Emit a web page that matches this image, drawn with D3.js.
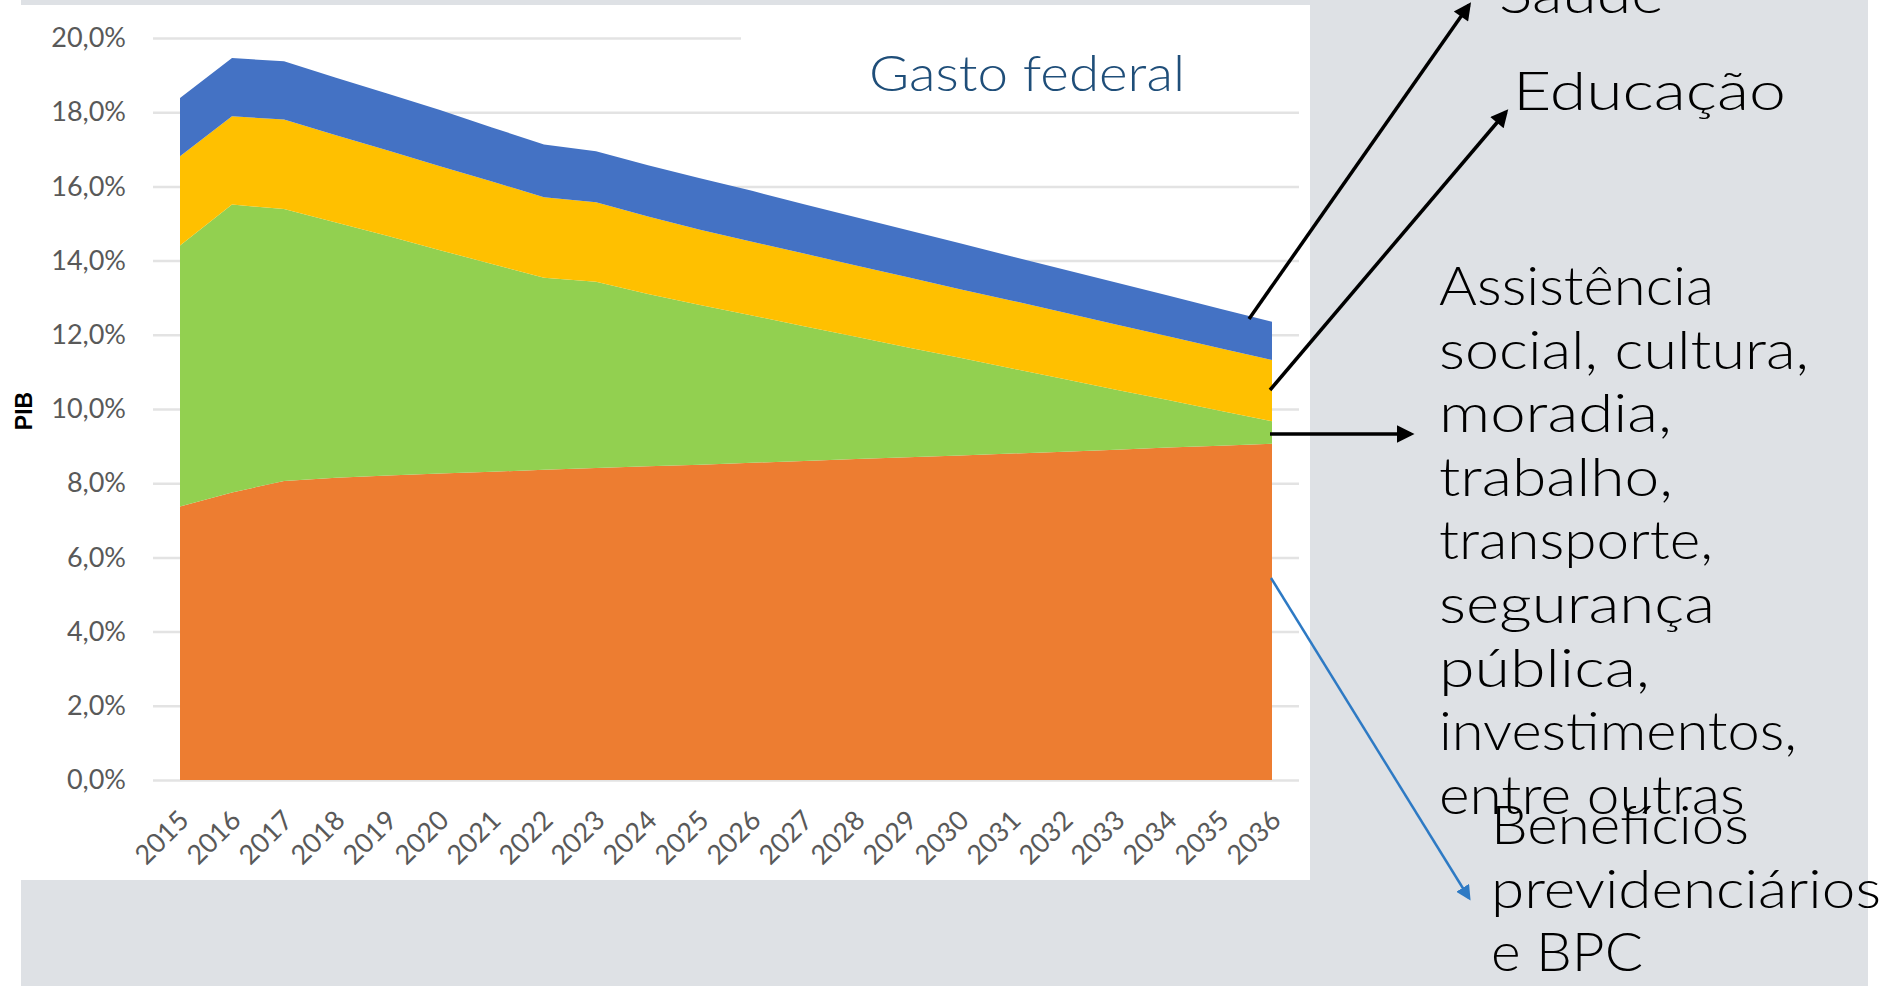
<!DOCTYPE html>
<html>
<head>
<meta charset="utf-8">
<script src="https://cdn.jsdelivr.net/npm/d3@7"></script>
<style>
  html, body { margin: 0; padding: 0; background: #ffffff; }
  svg { display: block; }
</style>
</head>
<body>
<svg id="chart" width="1891" height="986"></svg>
<script>
// ---------- DATA (percent of GDP) ----------
const years = ["2015","2016","2017","2018","2019","2020","2021","2022","2023","2024","2025",
               "2026","2027","2028","2029","2030","2031","2032","2033","2034","2035","2036"];
const seriesKeys = ["beneficios", "assistencia", "educacao", "saude"];
const beneficios  = [7.37, 7.75, 8.06, 8.15, 8.21, 8.26, 8.31, 8.36, 8.41, 8.46, 8.50, 8.55, 8.60, 8.65, 8.70, 8.75, 8.80, 8.85, 8.90, 8.96, 9.01, 9.06];
const assistencia = [7.04, 7.76, 7.33, 6.88, 6.45, 6.02, 5.60, 5.18, 5.02, 4.64, 4.30, 3.97, 3.63, 3.30, 2.96, 2.63, 2.29, 1.96, 1.62, 1.28, 0.94, 0.61];
const educacao    = [2.40, 2.38, 2.41, 2.35, 2.31, 2.26, 2.22, 2.17, 2.14, 2.09, 2.03, 1.99, 1.96, 1.92, 1.89, 1.85, 1.83, 1.79, 1.76, 1.72, 1.69, 1.65];
const saude       = [1.57, 1.57, 1.57, 1.55, 1.53, 1.52, 1.46, 1.42, 1.38, 1.38, 1.39, 1.37, 1.33, 1.30, 1.27, 1.24, 1.19, 1.16, 1.13, 1.10, 1.06, 1.03];
const seriesColors = ["#ED7D31", "#92D050", "#FFC000", "#4472C4"];
const yTicks = [0, 2, 4, 6, 8, 10, 12, 14, 16, 18, 20];
const yAxisTitle = "PIB";
const chartTitle = "Gasto federal";
const labelSaude = ["Saúde"];
const labelEducacao = ["Educação"];
const labelAssistencia = ["Assistência", "social, cultura,", "moradia,", "trabalho,", "transporte,", "segurança", "pública,", "investimentos,", "entre outras"];
const labelBeneficios = ["Benefícios", "previdenciários", "e BPC"];

// ---------- BUILD TABLE ----------
const table = years.map((yr, i) => ({
  year: yr,
  beneficios: beneficios[i],
  assistencia: assistencia[i],
  educacao: educacao[i],
  saude: saude[i]
}));

const svg = d3.select("#chart");

// backgrounds
svg.append("rect").attr("x", 21).attr("y", 0).attr("width", 1847).attr("height", 986).attr("fill", "#dee1e5");
svg.append("rect").attr("x", 0).attr("y", 5).attr("width", 1310).attr("height", 875).attr("fill", "#ffffff");

// scales
const x = d3.scalePoint().domain(years).range([180, 1272]);
const y = d3.scaleLinear().domain([0, 20]).range([780, 38]);
const gridX0 = 153, gridX1 = 1299;

// gridlines
const grid = svg.append("g").attr("transform", `translate(${gridX0},0)`)
  .call(d3.axisLeft(y).tickValues(yTicks).tickSize(-(gridX1 - gridX0)).tickFormat(""));
grid.select(".domain").remove();
grid.selectAll(".tick line").attr("stroke", "#e3e3e3").attr("stroke-width", 2.5);

// white title box covering the top gridline
svg.append("rect").attr("x", 741).attr("y", 28).attr("width", 565).attr("height", 70).attr("fill", "#ffffff");

// stacked areas
const stack = d3.stack().keys(seriesKeys);
const layers = stack(table);
const area = d3.area()
  .x(d => x(d.data.year))
  .y0(d => y(d[0]))
  .y1(d => y(d[1]));
svg.append("g").selectAll("path")
  .data(layers)
  .join("path")
  .attr("d", area)
  .attr("fill", (d, i) => seriesColors[i]);

// y axis labels
const yAxis = svg.append("g").attr("transform", `translate(${gridX0},0)`)
  .call(d3.axisLeft(y).tickValues(yTicks).tickSize(0).tickPadding(27)
        .tickFormat(d => d.toFixed(1).replace(".", ",") + "%"));
yAxis.select(".domain").remove();
yAxis.selectAll("text").attr("font-family", "Lato, 'Liberation Sans', sans-serif")
  .attr("font-size", 27).attr("fill", "#595959");

// x axis labels
const xAxis = svg.append("g").attr("transform", "translate(0,780)")
  .call(d3.axisBottom(x).tickSize(0).tickPadding(0));
xAxis.select(".domain").remove();
xAxis.selectAll("text")
  .attr("font-family", "Lato, 'Liberation Sans', sans-serif")
  .attr("font-size", 27).attr("fill", "#595959")
  .attr("text-anchor", "end")
  .attr("dy", 0).attr("y", 0)
  .attr("transform", "translate(10,42) rotate(-45)");

// y axis title
svg.append("text")
  .attr("transform", "translate(32,411) rotate(-90)")
  .attr("text-anchor", "middle")
  .attr("font-family", "'Liberation Sans', Arial, sans-serif")
  .attr("font-weight", "bold").attr("font-size", 23).attr("fill", "#000")
  .text(yAxisTitle);

// chart title
svg.append("text")
  .attr("x", 869).attr("y", 91)
  .attr("font-family", "Lato, 'DejaVu Sans', sans-serif").attr("font-weight", 300)
  .attr("font-size", 50).attr("fill", "#1f4e79")
  .attr("textLength", 316).attr("lengthAdjust", "spacingAndGlyphs")
  .text(chartTitle);

// arrow markers
const defs = svg.append("defs");
defs.append("marker").attr("id", "headBlack")
  .attr("viewBox", "0 0 10 10").attr("refX", 8).attr("refY", 5)
  .attr("markerWidth", 6).attr("markerHeight", 5).attr("markerUnits", "strokeWidth")
  .attr("orient", "auto")
  .append("path").attr("d", "M0,0 L10,5 L0,10 Z").attr("fill", "#000");
defs.append("marker").attr("id", "headBlue")
  .attr("viewBox", "0 0 10 10").attr("refX", 8).attr("refY", 5)
  .attr("markerWidth", 6).attr("markerHeight", 6).attr("markerUnits", "strokeWidth")
  .attr("orient", "auto")
  .append("path").attr("d", "M0,0 L10,5 L0,10 Z").attr("fill", "#2e7ac4");

const last = years[years.length - 1];
const xEnd = x(last);
const arrows = [
  { x1: xEnd - 23, y1: 319, x2: 1469, y2: 5,   color: "#000", w: 3.5, m: "headBlack" },
  { x1: xEnd - 2,  y1: 390, x2: 1506, y2: 112, color: "#000", w: 3.5, m: "headBlack" },
  { x1: xEnd - 2,  y1: 434, x2: 1411, y2: 434, color: "#000", w: 3.5, m: "headBlack" },
  { x1: xEnd - 1,  y1: 578, x2: 1469, y2: 898, color: "#2e7ac4", w: 2.5, m: "headBlue" }
];
svg.append("g").selectAll("line").data(arrows).join("line")
  .attr("x1", d => d.x1).attr("y1", d => d.y1)
  .attr("x2", d => d.x2).attr("y2", d => d.y2)
  .attr("stroke", d => d.color).attr("stroke-width", d => d.w)
  .attr("marker-end", d => `url(#${d.m})`);

// annotation texts
const annFont = "Lato, 'DejaVu Sans', sans-serif";
function block(lines, x0, y0, widths) {
  const g = svg.append("g");
  lines.forEach((t, i) => {
    g.append("text")
      .attr("x", x0).attr("y", y0 + i * 63.6)
      .attr("font-family", annFont).attr("font-weight", 300)
      .attr("font-size", 54).attr("fill", "#000")
      .attr("textLength", widths[i]).attr("lengthAdjust", "spacingAndGlyphs")
      .text(t);
  });
}
block(labelSaude, 1499, 13, [165]);
block(labelEducacao, 1513, 110, [273]);
block(labelAssistencia, 1439, 305, [275, 370, 233, 234, 274, 276, 211, 358, 306]);
block(labelBeneficios, 1491, 844, [258, 390, 152]);
</script>
</body>
</html>
